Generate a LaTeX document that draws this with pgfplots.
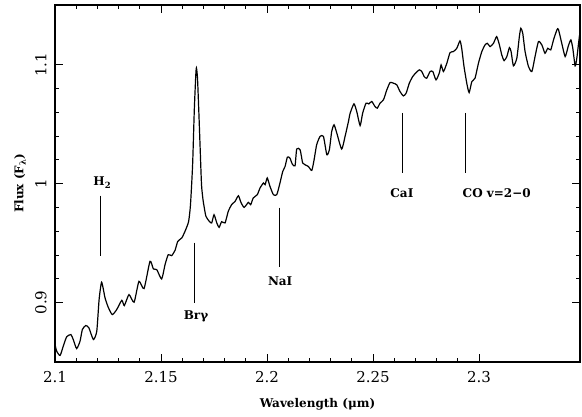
\documentclass[border=0pt]{standalone}
\usepackage{pgfplots}
\pgfplotsset{compat=1.18}
\usepackage{fontspec}
\setmainfont{DejaVu Serif}
\pgfplotstableread{
x y
2.1000 0.8647
2.1008 0.8591
2.1024 0.8555
2.1039 0.8633
2.1055 0.8712
2.1075 0.8731
2.1086 0.8689
2.1102 0.8613
2.1118 0.8675
2.1129 0.8773
2.1145 0.8807
2.1160 0.8787
2.1181 0.8689
2.1197 0.8759
2.1208 0.9025
2.1220 0.9171
2.1236 0.9039
2.1251 0.8961
2.1270 0.8899
2.1291 0.8941
2.1315 0.9019
2.1327 0.8975
2.1349 0.9067
2.1373 0.9003
2.1396 0.9179
2.1420 0.9118
2.1448 0.9347
2.1464 0.9283
2.1480 0.9277
2.1503 0.9199
2.1519 0.9319
2.1534 0.9403
2.1550 0.9395
2.1566 0.9439
2.1579 0.9515
2.1598 0.9544
2.1613 0.9599
2.1630 0.9681
2.1639 0.9824
2.1649 1.0160
2.1657 1.0622
2.1664 1.0916
2.1667 1.0975
2.1672 1.0891
2.1678 1.0622
2.1684 1.0328
2.1691 0.9992
2.1698 0.9866
2.1703 0.9809
2.1712 0.9725
2.1728 0.9683
2.1739 0.9670
2.1750 0.9739
2.1763 0.9670
2.1774 0.9633
2.1786 0.9681
2.1802 0.9670
2.1817 0.9767
2.1833 0.9824
2.1849 0.9851
2.1865 0.9899
2.1877 0.9843
2.1892 0.9801
2.1912 0.9843
2.1923 0.9824
2.1935 0.9880
2.1954 0.9908
2.1967 0.9964
2.1983 1.0006
2.1991 0.9992
2.2001 1.0048
2.2014 0.9977
2.2030 0.9908
2.2046 0.9908
2.2061 1.0006
2.2074 1.0103
2.2085 1.0145
2.2096 1.0224
2.2108 1.0216
2.2119 1.0166
2.2132 1.0151
2.2140 1.0292
2.2156 1.0286
2.2168 1.0174
2.2179 1.0160
2.2195 1.0145
2.2211 1.0112
2.2222 1.0202
2.2234 1.0328
2.2250 1.0398
2.2266 1.0398
2.2282 1.0244
2.2294 1.0286
2.2305 1.0440
2.2316 1.0496
2.2329 1.0426
2.2352 1.0292
2.2368 1.0398
2.2384 1.0524
2.2392 1.0594
2.2410 1.0672
2.2423 1.0608
2.2439 1.0490
2.2451 1.0594
2.2467 1.0678
2.2480 1.0672
2.2494 1.0692
2.2509 1.0650
2.2520 1.0636
2.2533 1.0678
2.2549 1.0706
2.2565 1.0790
2.2580 1.0851
2.2596 1.0846
2.2612 1.0832
2.2627 1.0776
2.2643 1.0739
2.2656 1.0762
2.2671 1.0846
2.2687 1.0902
2.2703 1.0935
2.2718 1.0958
2.2730 1.0944
2.2741 1.0902
2.2753 1.0888
2.2769 1.0944
2.2782 1.0944
2.2797 1.0874
2.2813 1.0935
2.2821 1.1000
2.2832 1.0944
2.2848 1.1014
2.2863 1.1103
2.2879 1.1112
2.2895 1.1140
2.2910 1.1202
2.2918 1.1140
2.2929 1.0986
2.2942 1.0846
2.2953 1.0767
2.2966 1.0860
2.2981 1.0888
2.2997 1.1014
2.3013 1.1112
2.3028 1.1168
2.3039 1.1182
2.3052 1.1154
2.3068 1.1182
2.3083 1.1238
2.3096 1.1168
2.3107 1.1084
2.3118 1.1036
2.3131 1.1070
2.3143 1.1145
2.3151 1.1112
2.3162 1.0992
2.3178 1.1056
2.3190 1.1238
2.3197 1.1308
2.3206 1.1266
2.3217 1.1112
2.3233 1.0986
2.3249 1.0944
2.3264 1.1070
2.3280 1.1196
2.3296 1.1168
2.3311 1.1098
2.3324 1.1140
2.3338 1.1126
2.3351 1.1210
2.3367 1.1294
2.3374 1.1300
2.3390 1.1182
2.3406 1.1070
2.3421 1.1160
2.3433 1.1210
2.3442 1.1140
2.3453 1.0992
2.3461 1.1056
2.3473 1.1238
2.3480 1.1308
}\spectrum
\newcommand{\lab}{\fontsize{12}{14}\selectfont\bfseries}
\begin{document}
\begin{tikzpicture}
\useasboundingbox (-55pt,-55pt) rectangle (527pt,362pt);
\begin{axis}[
  scale only axis,
  width=525pt, height=357pt,
  xmin=2.1, xmax=2.3476,
  ymin=0.85, ymax=1.1504,
  xtick={2.1,2.15,2.2,2.25,2.3},
  ytick={0.9,1,1.1},
  xticklabels={2.1,2.15,2.2,2.25,2.3},
  yticklabels={0.9,1,1.1},
  minor x tick num=4,
  minor y tick num=4,
  tick align=inside,
  major tick length=8pt,
  minor tick length=4pt,
  axis line style={line width=1.1pt},
  every tick/.style={black, line width=1pt},
  ticklabel style={font=\fontsize{15}{18}\selectfont},
  yticklabel style={rotate=90, anchor=south},
  xticklabel shift=6pt,
  yticklabel shift=5pt,
  xlabel={\lab Wavelength (μm)},
  ylabel={\lab Flux (F\raisebox{-0.35ex}{\fontsize{8.5}{9}\selectfont λ})},
  xlabel style={at={(axis description cs:0.5,-0.1176)}, anchor=center},
  ylabel style={at={(axis description cs:-0.0667,0.5)}, anchor=center},
  clip=true,
]
\addplot[black, line width=1.2pt, smooth, tension=0.35] table[x=x, y=y] {\spectrum};
\addplot[black, line width=1.1pt] coordinates {(2.1216,0.9899) (2.1216,0.9395)};
\addplot[black, line width=1.1pt] coordinates {(2.1659,0.9504) (2.1659,0.9000)};
\addplot[black, line width=1.1pt] coordinates {(2.2057,0.9798) (2.2057,0.9303)};
\addplot[black, line width=1.1pt] coordinates {(2.2640,1.0597) (2.2640,1.0092)};
\addplot[black, line width=1.1pt] coordinates {(2.2934,1.0597) (2.2934,1.0092)};
\node[anchor=center] at (axis cs:2.1222,1.0008) {\lab H\raisebox{-0.4ex}{\fontsize{8.5}{9}\selectfont 2}};
\node[anchor=center] at (axis cs:2.1665,0.8882) {\lab Brγ};
\node[anchor=center] at (axis cs:2.2062,0.9176) {\lab NaI};
\node[anchor=center] at (axis cs:2.2636,0.9924) {\lab CaI};
\node[anchor=west, inner sep=0pt] at (axis cs:2.2922,0.9924) {\lab CO v=2−0};
\end{axis}
\end{tikzpicture}
\end{document}
